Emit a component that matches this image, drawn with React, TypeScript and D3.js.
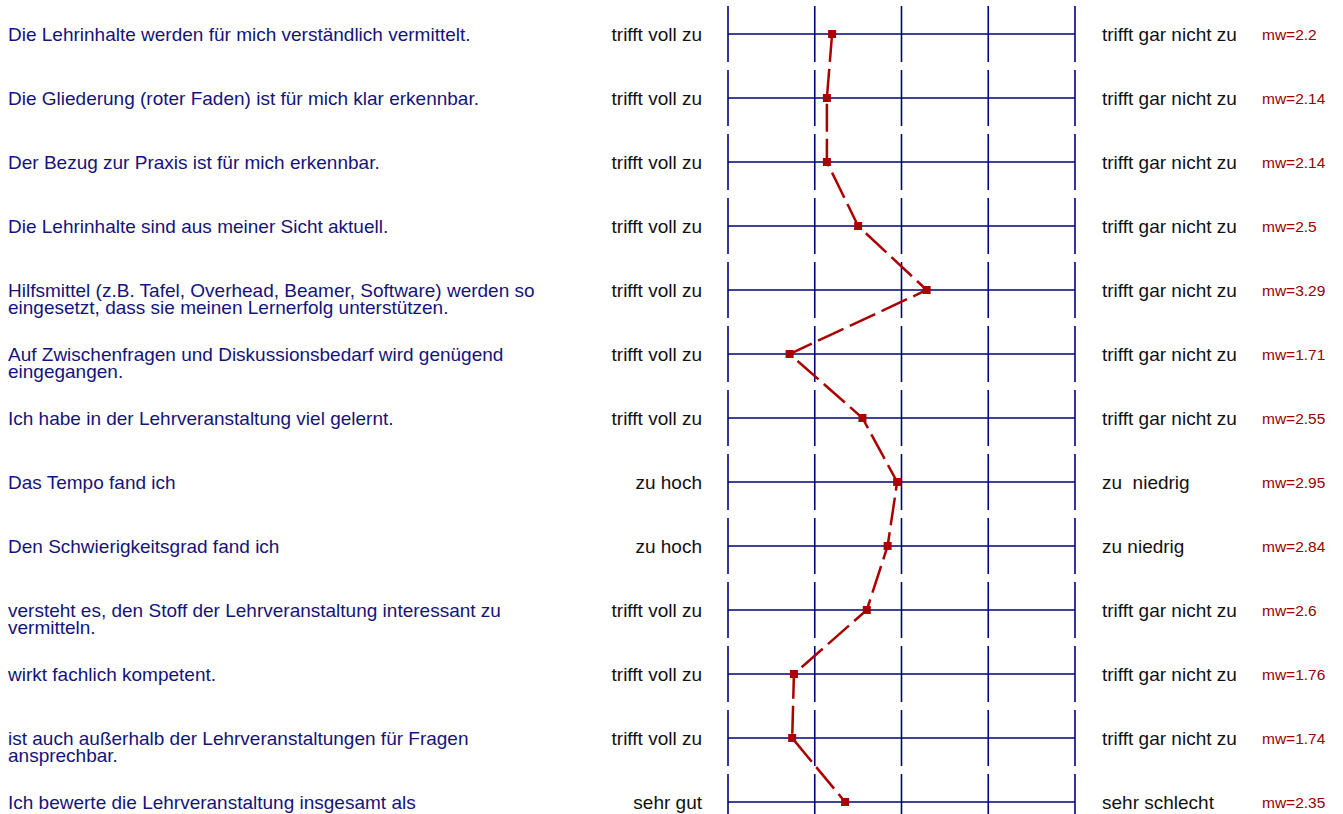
import React from "react";
import * as d3 from "d3";

const questions: string[][] = [
  ["Die Lehrinhalte werden für mich verständlich vermittelt."],
  ["Die Gliederung (roter Faden) ist für mich klar erkennbar."],
  ["Der Bezug zur Praxis ist für mich erkennbar."],
  ["Die Lehrinhalte sind aus meiner Sicht aktuell."],
  ["Hilfsmittel (z.B. Tafel, Overhead, Beamer, Software) werden so", "eingesetzt, dass sie meinen Lernerfolg unterstützen."],
  ["Auf Zwischenfragen und Diskussionsbedarf wird genügend", "eingegangen."],
  ["Ich habe in der Lehrveranstaltung viel gelernt."],
  ["Das Tempo fand ich"],
  ["Den Schwierigkeitsgrad fand ich"],
  ["versteht es, den Stoff der Lehrveranstaltung interessant zu", "vermitteln."],
  ["wirkt fachlich kompetent."],
  ["ist auch außerhalb der Lehrveranstaltungen für Fragen", "ansprechbar."],
  ["Ich bewerte die Lehrveranstaltung insgesamt als"],
];
const leftLabels = [
  "trifft voll zu", "trifft voll zu", "trifft voll zu", "trifft voll zu", "trifft voll zu",
  "trifft voll zu", "trifft voll zu", "zu hoch", "zu hoch", "trifft voll zu",
  "trifft voll zu", "trifft voll zu", "sehr gut",
];
const rightLabels = [
  "trifft gar nicht zu", "trifft gar nicht zu", "trifft gar nicht zu", "trifft gar nicht zu",
  "trifft gar nicht zu", "trifft gar nicht zu", "trifft gar nicht zu", "zu  niedrig",
  "zu niedrig", "trifft gar nicht zu", "trifft gar nicht zu", "trifft gar nicht zu", "sehr schlecht",
];
const means = [2.2, 2.14, 2.14, 2.5, 3.29, 1.71, 2.55, 2.95, 2.84, 2.6, 1.76, 1.74, 2.35];
const scaleTicks = [1, 2, 3, 4, 5];

const BLUE = "#000080";
const TEXTBLUE = "#14147a";
const RED = "#aa0000";
const FONT = "'Liberation Sans', Arial, sans-serif";

export default function App() {
  const W = 1343, H = 814;
  const x = d3.scaleLinear().domain([1, 5]).range([728, 1075]);
  const y = d3.scalePoint<number>().domain(d3.range(means.length)).range([34, 802]);
  const line = d3.line<number>().x((d) => x(d)).y((_, i) => y(i)!);
  return (
    <svg width={W} height={H} style={{ position: "absolute", left: 0, top: 0 }} fontFamily={FONT}>
      <rect width={W} height={H} fill="white" />
      {means.map((m, i) => {
        const cy = y(i)!;
        return (
          <g key={i}>
            {scaleTicks.map((t) => (
              <line key={t} x1={x(t)} x2={x(t)} y1={cy - 28} y2={cy + 28} stroke={BLUE} strokeWidth={1.6} />
            ))}
            <line x1={x(1)} x2={x(5)} y1={cy} y2={cy} stroke={BLUE} strokeWidth={1.4} />
            <text x={8} y={cy + 6.5} fontSize={19} fill={TEXTBLUE}>
              {questions[i].map((q, j) => (
                <tspan key={j} x={8} dy={j === 0 ? 0 : 17}>{q}</tspan>
              ))}
            </text>
            <text x={702} y={cy + 6.5} fontSize={19} fill="#111" textAnchor="end">{leftLabels[i]}</text>
            <text x={1102} y={cy + 6.5} fontSize={19} fill="#111" style={{ whiteSpace: "pre" }}>{rightLabels[i]}</text>
            <text x={1262} y={cy + 6} fontSize={15.5} fill="#990000">{"mw=" + m}</text>
          </g>
        );
      })}
      <path d={line(means) || ""} fill="none" stroke={RED} strokeWidth={2.5} strokeDasharray="28,7" />
      {means.map((m, i) => (
        <rect key={i} x={x(m) - 4} y={y(i)! - 4} width={8} height={8} fill={RED} />
      ))}
    </svg>
  );
}
